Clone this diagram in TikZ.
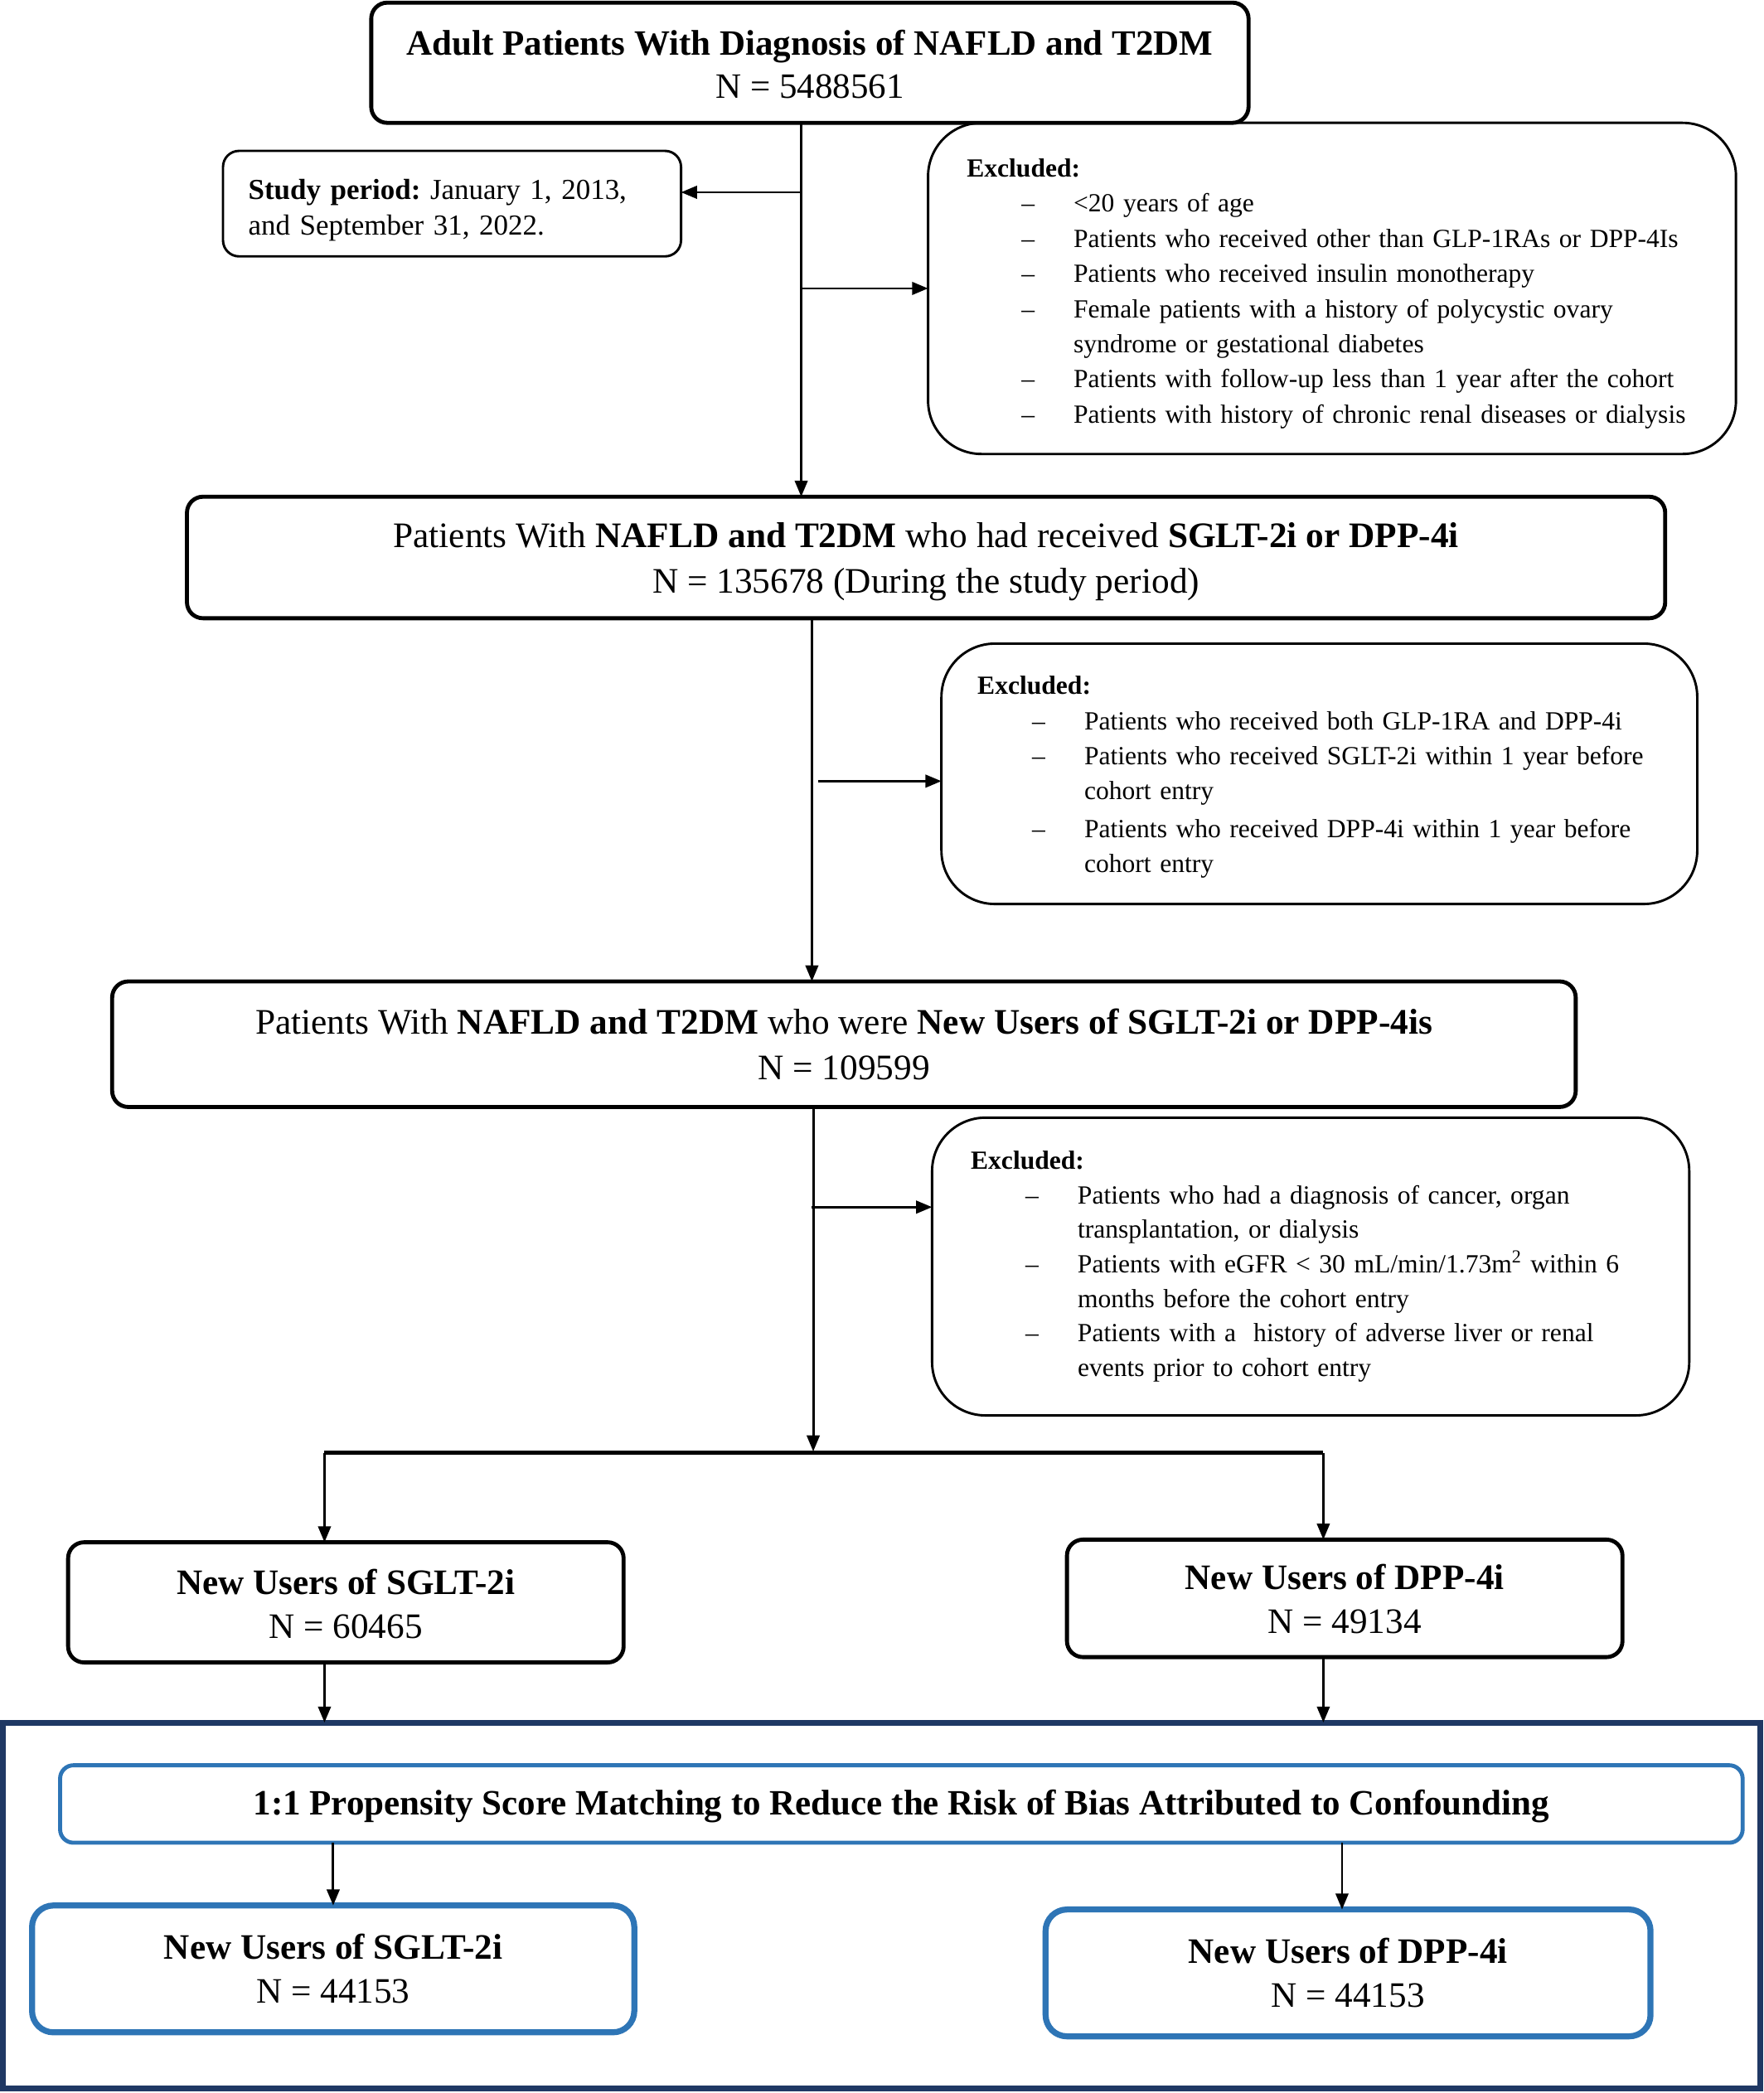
\documentclass[tikz,border=0pt]{standalone}
\usepackage{fontspec}
\setmainfont{Liberation Serif}
\usetikzlibrary{arrows.meta}
\definecolor{navy}{HTML}{1F3864}
\definecolor{mblue}{HTML}{2E75B6}
\newcommand{\exitem}[1]{\mbox{\makebox[80pt][l]{\hspace{41pt}–}#1}}
\newcommand{\excont}[1]{\mbox{\hspace*{80pt}#1}}
\newcommand{\lift}[1]{\rule{0pt}{#1pt}}
\frenchspacing
\tikzset{
  mainbox/.style={draw=black, line width=3, rounded corners=12, align=center, inner sep=0, outer sep=0,
    font=\frenchspacing\fontsize{26.8}{33}\selectfont},
  exbox/.style={draw=black, line width=1.8, rounded corners=40, align=left, inner ysep=0, outer sep=0,
    font=\frenchspacing\fontsize{19.6}{26.3}\selectfont},
  spbox/.style={draw=black, line width=1.8, rounded corners=12, align=left, inner ysep=0, inner xsep=19, outer sep=0,
    font=\frenchspacing\fontsize{21.7}{27}\selectfont},
  bluebox/.style={draw=mblue, line width=3, rounded corners=10, align=center, inner sep=0, outer sep=0,
    font=\frenchspacing\fontsize{26.7}{33}\selectfont},
  bluebig/.style={draw=mblue, line width=4.5, rounded corners=16, align=center, inner sep=0, outer sep=0,
    font=\frenchspacing\fontsize{26.8}{33}\selectfont},
  frame/.style={draw=navy, line width=4.3, inner sep=0, outer sep=0},
  arr/.style={line width=1.8, -{Triangle[length=12,width=9.5]}},
  split/.style={line width=3},
}
\begin{document}
\begin{tikzpicture}[x=1pt,y=-1pt]
\useasboundingbox (0,0) rectangle (1321,1567.45);
\fill[white] (0,0) rectangle (1321,1567.45);

\node[mainbox, font=\frenchspacing\fontsize{26.7}{32}\selectfont, minimum width=657, minimum height=90] (b1) at (606.5,47)
  {\lift{21}\textbf{Adult Patients With Diagnosis of NAFLD and T2DM}\\N = 5488561};

\node[spbox, text width=305, minimum width=343, minimum height=79] (sp) at (338.5,152.5)
  {\mbox{\lift{25}\textbf{Study period:} January 1, 2013,}\\and September 31, 2022.};

\node[exbox, inner xsep=29, text width=547, minimum width=605, minimum height=248] (ex1) at (997.5,216)
  {\lift{21.5}\textbf{Excluded:}\\
   \exitem{<20 years of age}\\
   \exitem{Patients who received other than GLP-1RAs or DPP-4Is}\\
   \exitem{Patients who received insulin monotherapy}\\
   \exitem{Female patients with a history of polycystic ovary}\\
   \excont{syndrome or gestational diabetes}\\
   \exitem{Patients with follow-up less than 1 year after the cohort}\\
   \exitem{Patients with history of chronic renal diseases or dialysis}};

\node[mainbox, font=\frenchspacing\fontsize{26.9}{34}\selectfont, minimum width=1107, minimum height=91] (b2) at (693.5,417.5)
  {\lift{25}Patients With \textbf{NAFLD and T2DM} who had received \textbf{SGLT-2i or DPP-4i}\\N = 135678 (During the study period)};

\node[exbox, inner xsep=27, text width=512, minimum width=566, minimum height=195] (ex2) at (988,579.5)
  {\lift{19}\textbf{Excluded:}\\
   \exitem{Patients who received both GLP-1RA and DPP-4i}\\
   \exitem{Patients who received SGLT-2i within 1 year before}\\
   \excont{cohort entry}\\[2pt]
   \exitem{Patients who received DPP-4i within 1 year before}\\
   \excont{cohort entry}};

\node[mainbox, font=\frenchspacing\fontsize{26.9}{34}\selectfont, minimum width=1096, minimum height=94] (b3) at (632,782)
  {Patients With \textbf{NAFLD and T2DM} who were \textbf{New Users of SGLT-2i or DPP-4is}\\N = 109599};

\node[exbox, font=\frenchspacing\fontsize{19.6}{25.9}\selectfont, inner xsep=29, text width=509, minimum width=567, minimum height=223] (ex3) at (981.5,948.5)
  {\textbf{Excluded:}\\
   \exitem{Patients who had a diagnosis of cancer, organ}\\
   \excont{transplantation, or dialysis}\\
   \exitem{Patients with eGFR < 30 mL/min/1.73m\textsuperscript{2} within 6}\\
   \excont{months before the cohort entry}\\
   \exitem{Patients with a\ \ history of adverse liver or renal}\\
   \excont{events prior to cohort entry}};

\node[mainbox, minimum width=416, minimum height=90] (s1) at (259,1200)
  {\lift{21}\textbf{New Users of SGLT-2i}\\N = 60465};
\node[mainbox, minimum width=416, minimum height=88] (d1) at (1007,1197)
  {\lift{20}\textbf{New Users of DPP-4i}\\N = 49134};

\node[frame, minimum width=1316, minimum height=274] (big) at (660,1427) {};

\node[bluebox, minimum width=1260, minimum height=58] (pm) at (675,1351)
  {\lift{22}\textbf{1:1 Propensity Score Matching to Reduce the Risk of Bias Attributed to Confounding}};

\node[bluebig, minimum width=451, minimum height=95] (s2) at (249.5,1474.5)
  {\textbf{New Users of SGLT-2i}\\N = 44153};
\node[bluebig, minimum width=453, minimum height=95] (d2) at (1009.5,1477.5)
  {\textbf{New Users of DPP-4i}\\N = 44153};

% connectors
\coordinate (v1) at (600,144);
\coordinate (v2) at (600,216);
\coordinate (v3) at (608,585);
\coordinate (h2) at (613,585);
\coordinate (h3) at (608,904);
\coordinate (sm) at (609,1087);
\coordinate (sl) at (243,1088);
\coordinate (sr) at (991,1088);
\coordinate (pd) at (1005,1400);

\draw[arr] (b1.south -| v1) -- (b2.north -| v1);
\draw[arr] (v1) -- (v1 -| sp.east);
\draw[arr] (v2) -- (v2 -| ex1.west);
\draw[arr] (b2.south -| v3) -- (b3.north -| v3);
\draw[arr] (h2) -- (h2 -| ex2.west);
\draw[arr] (b3.south -| sm) -- (sm);
\draw[arr] (h3) -- (h3 -| ex3.west);
\draw[split] (sl) -- (sr);
\draw[arr] (sl) -- (sl |- s1.north);
\draw[arr] (sr) -- (sr |- d1.north);
\draw[arr] (s1.south -| sl) -- (big.north -| sl);
\draw[arr] (d1.south -| sr) -- (big.north -| sr);
\draw[arr] (pm.south -| s2.north) -- (s2.north);
\draw[arr] (pm.south -| pd) -- (d2.north -| pd);
\end{tikzpicture}
\end{document}
